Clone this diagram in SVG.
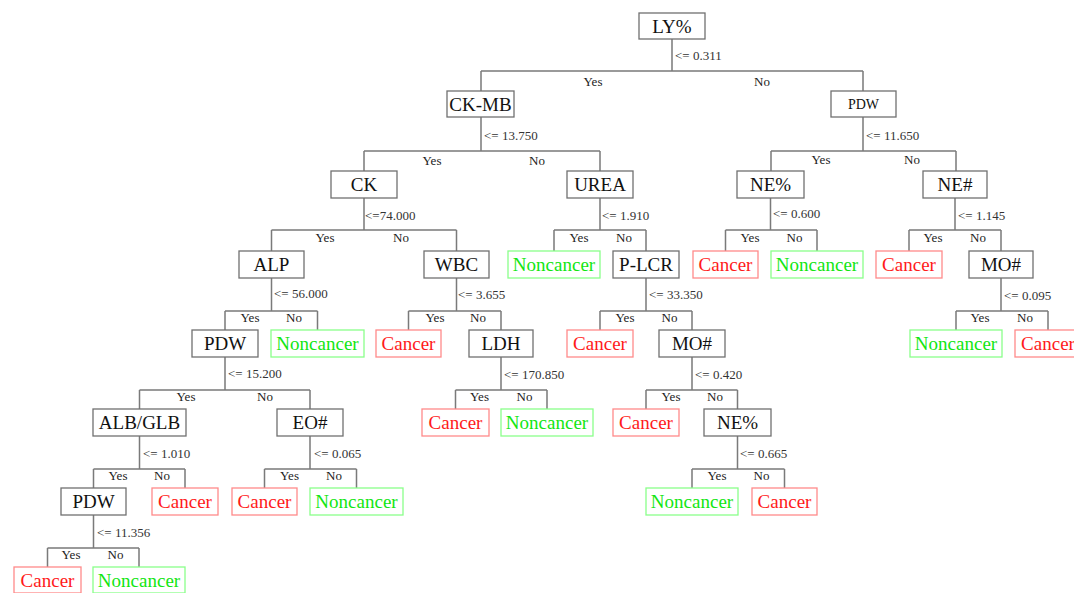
<svg xmlns="http://www.w3.org/2000/svg" width="1074" height="593" viewBox="0 0 1074 593">
<style>
  .b{fill:#fff;stroke:#707070;stroke-width:1.3}
  .c{fill:#fff;stroke:#ff8a8a;stroke-width:1.3}
  .n{fill:#fff;stroke:#8aff8a;stroke-width:1.3}
  text{font-family:"Liberation Serif","Times New Roman",serif}
  .t{font-size:19px;fill:#111;text-anchor:middle}
  .tc{font-size:19px;fill:#ff1a1a;text-anchor:middle}
  .tn{font-size:19px;fill:#12e612;text-anchor:middle}
  .s{font-size:14px;fill:#111;text-anchor:middle}
  .th{font-size:13px;fill:#333}
  .yn{font-size:13px;fill:#222;text-anchor:middle}
  .e{fill:none;stroke:#7a7a7a;stroke-width:1.5}
</style>
<g id="connectors">
  <path class="e" d="M672 39V71M481 71H863M481 71V91M863 71V91"/>
  <path class="e" d="M481 117V151M364 151H600M364 151V171M600 151V171"/>
  <path class="e" d="M863 117V151M771 151H956M771 151V171M956 151V171"/>
  <path class="e" d="M364 198V230M271.5 230H456.5M271.5 230V251M456.5 230V251"/>
  <path class="e" d="M600 198V230M554 230H646M554 230V251M646 230V251"/>
  <path class="e" d="M770.5 198V230M725.5 230H817M725.5 230V251M817 230V251"/>
  <path class="e" d="M955 198V230M909 230H1001M909 230V251M1001 230V251"/>
  <path class="e" d="M271.5 278V311M225 311H317.5M225 311V330M317.5 311V330"/>
  <path class="e" d="M456.5 278V311M408.5 311H501M408.5 311V330M501 311V330"/>
  <path class="e" d="M646 278V311M600 311H692M600 311V330M692 311V330"/>
  <path class="e" d="M1001 278V311M956 311H1048M956 311V330M1048 311V330"/>
  <path class="e" d="M225 357V390M139.5 390H310M139.5 390V409M310 390V409"/>
  <path class="e" d="M501 357V390M455.5 390H547M455.5 390V409M547 390V409"/>
  <path class="e" d="M692 357V390M646 390H737.5M646 390V409M737.5 390V409"/>
  <path class="e" d="M139.5 436V469M93.5 469H185M93.5 469V488M185 469V488"/>
  <path class="e" d="M310 436V469M264.5 469H356.5M264.5 469V488M356.5 469V488"/>
  <path class="e" d="M737.5 436V469M692 469H784.5M692 469V488M784.5 469V488"/>
  <path class="e" d="M93.5 515V548M47.5 548H139M47.5 548V567M139 548V567"/>
  <g id="edge-labels">
    <text class="th" x="675" y="59.5">&lt;= 0.311</text>
    <text class="yn" x="593" y="85.5">Yes</text><text class="yn" x="762" y="85.5">No</text>
    <text class="th" x="484" y="140">&lt;= 13.750</text>
    <text class="yn" x="432" y="165">Yes</text><text class="yn" x="537" y="165">No</text>
    <text class="th" x="866" y="140">&lt;= 11.650</text>
    <text class="yn" x="821" y="164">Yes</text><text class="yn" x="912" y="164">No</text>
    <text class="th" x="365" y="219.5">&lt;=74.000</text>
    <text class="yn" x="325" y="241.5">Yes</text><text class="yn" x="401" y="241.5">No</text>
    <text class="th" x="602" y="219.5">&lt;= 1.910</text>
    <text class="yn" x="579" y="241.5">Yes</text><text class="yn" x="624" y="241.5">No</text>
    <text class="th" x="773" y="218">&lt;= 0.600</text>
    <text class="yn" x="750" y="241.5">Yes</text><text class="yn" x="794.5" y="241.5">No</text>
    <text class="th" x="958" y="219.5">&lt;= 1.145</text>
    <text class="yn" x="933" y="241.5">Yes</text><text class="yn" x="978" y="241.5">No</text>
    <text class="th" x="274" y="297.5">&lt;= 56.000</text>
    <text class="yn" x="250" y="322">Yes</text><text class="yn" x="294" y="322">No</text>
    <text class="th" x="458" y="298.5">&lt;= 3.655</text>
    <text class="yn" x="435" y="322">Yes</text><text class="yn" x="478" y="322">No</text>
    <text class="th" x="649" y="298.5">&lt;= 33.350</text>
    <text class="yn" x="625" y="322">Yes</text><text class="yn" x="669.5" y="322">No</text>
    <text class="th" x="1004" y="299.5">&lt;= 0.095</text>
    <text class="yn" x="980" y="322">Yes</text><text class="yn" x="1025" y="322">No</text>
    <text class="th" x="228" y="378">&lt;= 15.200</text>
    <text class="yn" x="186" y="400.5">Yes</text><text class="yn" x="265" y="400.5">No</text>
    <text class="th" x="504" y="378.5">&lt;= 170.850</text>
    <text class="yn" x="479.5" y="400.5">Yes</text><text class="yn" x="524.5" y="400.5">No</text>
    <text class="th" x="695" y="378.5">&lt;= 0.420</text>
    <text class="yn" x="671" y="400.5">Yes</text><text class="yn" x="715" y="400.5">No</text>
    <text class="th" x="143" y="457.5">&lt;= 1.010</text>
    <text class="yn" x="118" y="480">Yes</text><text class="yn" x="162" y="480">No</text>
    <text class="th" x="314" y="457.5">&lt;= 0.065</text>
    <text class="yn" x="289.5" y="480">Yes</text><text class="yn" x="334" y="480">No</text>
    <text class="th" x="740" y="457.5">&lt;= 0.665</text>
    <text class="yn" x="717" y="480">Yes</text><text class="yn" x="761.5" y="480">No</text>
    <text class="th" x="97" y="536.5">&lt;= 11.356</text>
    <text class="yn" x="71" y="558.5">Yes</text><text class="yn" x="115.5" y="558.5">No</text>
  </g>
</g>
<g id="n-ly"><rect class="b" x="639" y="13" width="66" height="26"/><text class="t" x="672" y="32.5">LY%</text></g>
<g id="n-ckmb"><rect class="b" x="447" y="91" width="67" height="26"/><text class="t" x="480.5" y="110.5">CK-MB</text></g>
<g id="n-pdw1"><rect class="b" x="831" y="91" width="65" height="26"/><text class="s" x="863.5" y="109">PDW</text></g>
<g id="n-ck"><rect class="b" x="331" y="171" width="66" height="27"/><text class="t" x="364" y="191">CK</text></g>
<g id="n-urea"><rect class="b" x="567" y="171" width="66" height="27"/><text class="t" x="600" y="191">UREA</text></g>
<g id="n-ne1"><rect class="b" x="737" y="171" width="67" height="27"/><text class="t" x="770.5" y="191">NE%</text></g>
<g id="n-nen"><rect class="b" x="923" y="171" width="64" height="27"/><text class="t" x="955" y="191">NE#</text></g>
<g id="n-alp"><rect class="b" x="239" y="251" width="65" height="27"/><text class="t" x="271.5" y="271">ALP</text></g>
<g id="n-wbc"><rect class="b" x="424" y="251" width="65" height="27"/><text class="t" x="456.5" y="271">WBC</text></g>
<g id="n-l3a"><rect class="n" x="508" y="251" width="92" height="27"/><text class="tn" x="554" y="271">Noncancer</text></g>
<g id="n-plcr"><rect class="b" x="613" y="251" width="66" height="27"/><text class="t" x="646" y="271">P-LCR</text></g>
<g id="n-l3b"><rect class="c" x="693" y="251" width="65" height="27"/><text class="tc" x="725.5" y="271">Cancer</text></g>
<g id="n-l3c"><rect class="n" x="771" y="251" width="92" height="27"/><text class="tn" x="817" y="271">Noncancer</text></g>
<g id="n-l3d"><rect class="c" x="876" y="251" width="66" height="27"/><text class="tc" x="909" y="271">Cancer</text></g>
<g id="n-mo1"><rect class="b" x="969" y="251" width="64" height="27"/><text class="t" x="1001" y="271">MO#</text></g>
<g id="n-pdw2"><rect class="b" x="192" y="330" width="66" height="27"/><text class="t" x="225" y="350">PDW</text></g>
<g id="n-l4a"><rect class="n" x="271" y="330" width="93" height="27"/><text class="tn" x="317.5" y="350">Noncancer</text></g>
<g id="n-l4b"><rect class="c" x="376" y="330" width="65" height="27"/><text class="tc" x="408.5" y="350">Cancer</text></g>
<g id="n-ldh"><rect class="b" x="469" y="330" width="64" height="27"/><text class="t" x="501" y="350">LDH</text></g>
<g id="n-l4c"><rect class="c" x="567" y="330" width="66" height="27"/><text class="tc" x="600" y="350">Cancer</text></g>
<g id="n-mo2"><rect class="b" x="659" y="330" width="66" height="27"/><text class="t" x="692" y="350">MO#</text></g>
<g id="n-l4d"><rect class="n" x="910" y="330" width="92" height="27"/><text class="tn" x="956" y="350">Noncancer</text></g>
<g id="n-l4e"><rect class="c" x="1015" y="330" width="66" height="27"/><text class="tc" x="1048" y="350">Cancer</text></g>
<g id="n-albglb"><rect class="b" x="93" y="409" width="93" height="27"/><text class="t" x="139.5" y="429">ALB/GLB</text></g>
<g id="n-eo"><rect class="b" x="277" y="409" width="66" height="27"/><text class="t" x="310" y="429">EO#</text></g>
<g id="n-l5a"><rect class="c" x="422" y="409" width="67" height="27"/><text class="tc" x="455.5" y="429">Cancer</text></g>
<g id="n-l5b"><rect class="n" x="501" y="409" width="92" height="27"/><text class="tn" x="547" y="429">Noncancer</text></g>
<g id="n-l5c"><rect class="c" x="613" y="409" width="66" height="27"/><text class="tc" x="646" y="429">Cancer</text></g>
<g id="n-ne2"><rect class="b" x="704" y="409" width="67" height="27"/><text class="t" x="737.5" y="429">NE%</text></g>
<g id="n-pdw3"><rect class="b" x="61" y="488" width="65" height="27"/><text class="t" x="93.5" y="508">PDW</text></g>
<g id="n-l6a"><rect class="c" x="152" y="488" width="66" height="27"/><text class="tc" x="185" y="508">Cancer</text></g>
<g id="n-l6b"><rect class="c" x="232" y="488" width="65" height="27"/><text class="tc" x="264.5" y="508">Cancer</text></g>
<g id="n-l6c"><rect class="n" x="310" y="488" width="93" height="27"/><text class="tn" x="356.5" y="508">Noncancer</text></g>
<g id="n-l6d"><rect class="n" x="646" y="488" width="92" height="27"/><text class="tn" x="692" y="508">Noncancer</text></g>
<g id="n-l6e"><rect class="c" x="752" y="488" width="65" height="27"/><text class="tc" x="784.5" y="508">Cancer</text></g>
<g id="n-l7a"><rect class="c" x="14" y="567" width="67" height="26"/><text class="tc" x="47.5" y="587">Cancer</text></g>
<g id="n-l7b"><rect class="n" x="93" y="567" width="92" height="26"/><text class="tn" x="139" y="587">Noncancer</text></g>
</svg>
